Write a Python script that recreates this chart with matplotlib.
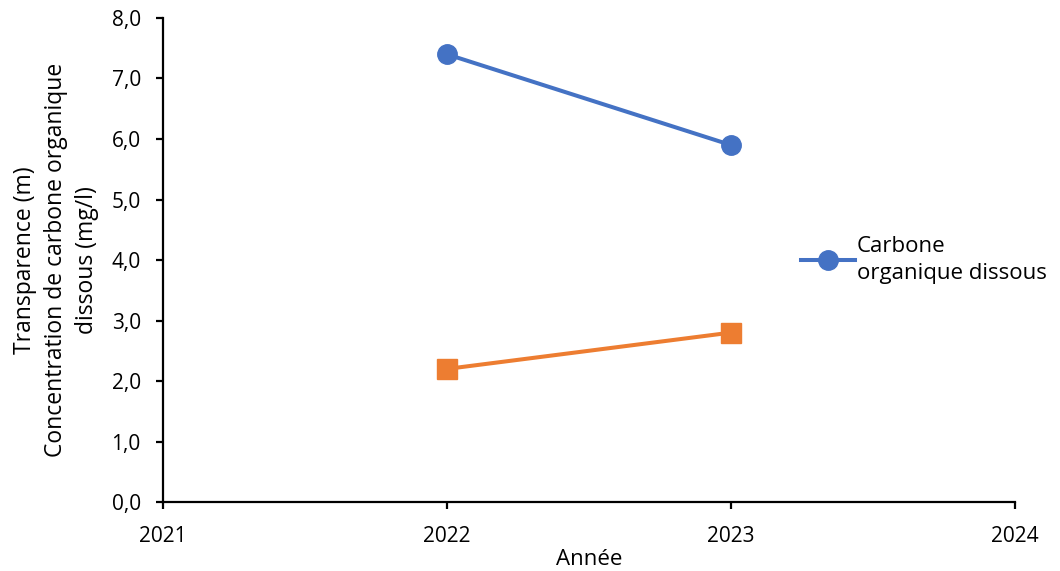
import matplotlib.pyplot as plt
from matplotlib.ticker import FuncFormatter

# Data
years = [2022, 2023]
carbone = [7.4, 5.9]
transparence = [2.2, 2.8]
x_ticks = [2021, 2022, 2023, 2024]
y_ticks = [0, 1, 2, 3, 4, 5, 6, 7, 8]

BLUE = '#4472C4'
ORANGE = '#ED7D31'

plt.rcParams['font.family'] = ['Open Sans', 'DejaVu Sans']

fig = plt.figure(figsize=(10.6, 5.71), dpi=100)
ax = fig.add_axes([0.1538, 0.1208, 0.8037, 0.8477])

line_c, = ax.plot(years, carbone, color=BLUE, linewidth=2.9, marker='o',
                  markersize=14, label='Carbone\norganique dissous')
ax.plot(years, transparence, color=ORANGE, linewidth=2.9, marker='s',
        markersize=14, label='Transparence')

ax.set_xlim(2021, 2024)
ax.set_ylim(0, 8)
ax.set_xticks(x_ticks)
ax.set_yticks(y_ticks)
ax.yaxis.set_major_formatter(FuncFormatter(lambda v, p: f'{v:.1f}'.replace('.', ',')))
ax.tick_params(axis='both', labelsize=15, width=1.6, length=5, direction='out')
ax.tick_params(axis='x', pad=12)
ax.tick_params(axis='y', pad=11)

for s in ['top', 'right']:
    ax.spines[s].set_visible(False)
for s in ['left', 'bottom']:
    ax.spines[s].set_linewidth(1.6)

ax.set_xlabel('Année', fontsize=16, labelpad=2)
ax.set_ylabel('Transparence (m)\nConcentration de carbone organique\ndissous (mg/l)',
              fontsize=16.5, multialignment='center', labelpad=9, linespacing=1.4)

leg = fig.legend(handles=[line_c], loc='center left', bbox_to_anchor=(0.737, 0.545),
                 frameon=False, fontsize=16, handlelength=2.4, handletextpad=0.1)
leg.get_texts()[0].set_linespacing(1.4)

fig.savefig('out.png', dpi=100)
